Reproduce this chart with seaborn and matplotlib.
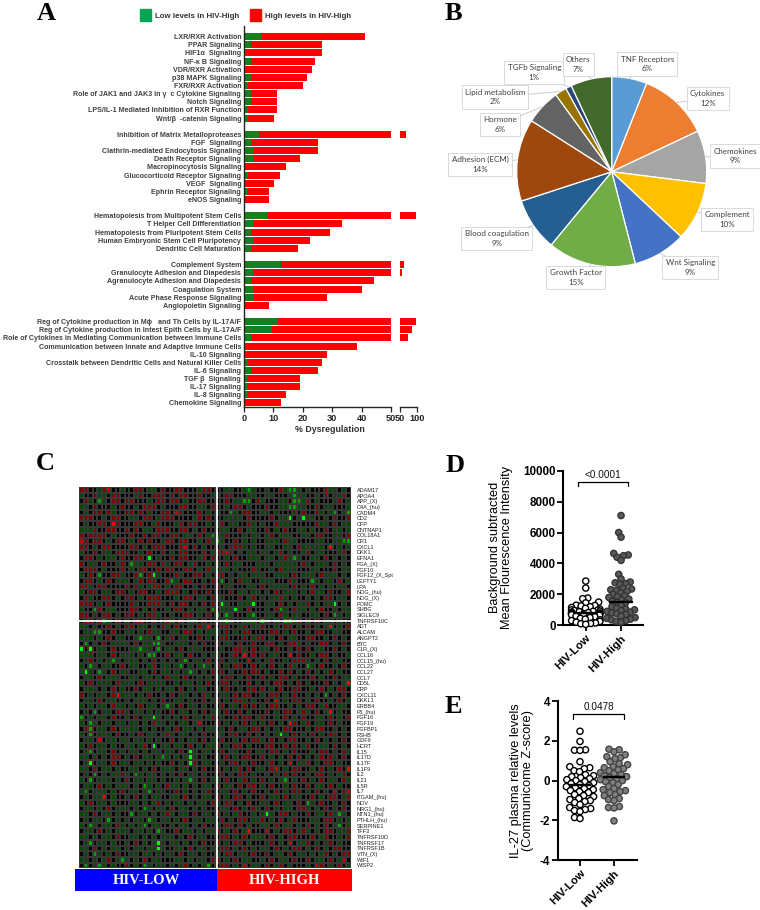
import matplotlib
matplotlib.use("Agg")
import numpy as np
import pandas as pd
import matplotlib.pyplot as plt
import seaborn as sns
from matplotlib.colors import LinearSegmentedColormap
from matplotlib.patches import Patch

# ---------------------------------------------------------------------------
# Panel A: % dysregulation per pathway, empty strings are the gaps between groups
# ---------------------------------------------------------------------------
a_terms = [
    "LXR/RXR Activation", "PPAR Signaling", "HIF1α  Signaling", "NF-κ B Signaling",
    "VDR/RXR Activation", "p38 MAPK Signaling", "FXR/RXR Activation",
    "Role of JAK1 and JAK3 in γ  c Cytokine Signaling", "Notch Signaling",
    "LPS/IL-1 Mediated Inhibition of RXR Function", "Wnt/β  -catenin Signaling", "",
    "Inhibition of Matrix Metalloproteases", "FGF  Signaling",
    "Clathrin-mediated Endocytosis Signaling", "Death Receptor Signaling",
    "Macropinocytosis Signaling", "Glucocorticoid Receptor Signaling", "VEGF  Signaling",
    "Ephrin Receptor Signaling", "eNOS Signaling", "",
    "Hematopoiesis from Multipotent Stem Cells", "T Helper Cell Differentiation",
    "Hematopoiesis from Pluripotent Stem Cells", "Human Embryonic Stem Cell Pluripotency",
    "Dendritic Cell Maturation", "",
    "Complement System", "Granulocyte Adhesion and Diapedesis",
    "Agranulocyte Adhesion and Diapedesis", "Coagulation System",
    "Acute Phase Response Signaling", "Angiopoietin Signaling", "",
    "Reg of Cytokine production in Mϕ   and Th Cells by IL-17A/F",
    "Reg of Cytokine production in Intest Epith Cells by IL-17A/F",
    "Role of Cytokines in Mediating Communication between Immune Cells",
    "Communication between Innate and Adaptive Immune Cells", "IL-10 Signaling",
    "Crosstalk between Dendritic Cells and Natural Killer Cells", "IL-6 Signaling",
    "TGF β  Signaling", "IL-17 Signaling", "IL-8 Signaling", "Chemokine Signaling",
]
a_total = [
    41.3, 26.4, 26.4, 24.2, 23.2, 21.3, 20.2, 11.3, 11.3, 11.3, 10.2, 0,
    68, 25.3, 25.3, 19.2, 14.2, 12.4, 10.2, 8.4, 8.4, 0,
    98, 33.3, 29.3, 22.3, 18.5, 0,
    62, 55, 44.3, 40.2, 28.2, 8.4, 0,
    96, 85, 74, 38.3, 28.2, 26.4, 25.3, 19.2, 19.2, 14.2, 12.5,
]
a_low = [
    6.2, 2.3, 0, 2.3, 0, 2.3, 1.2, 2.3, 2.3, 1.2, 1.2, 0,
    5.1, 2.3, 3.3, 3.3, 0, 1.2, 0, 1.2, 0, 0,
    8.3, 3.3, 2.3, 3.3, 2.3, 0,
    12.5, 3.3, 2.3, 3.3, 3.3, 0, 0,
    11.5, 9.4, 2.3, 0, 0, 1.2, 2.3, 1.2, 1.2, 1.2, 0,
]

# ---------------------------------------------------------------------------
# Panel B: share of the categories
# ---------------------------------------------------------------------------
b_labels = [
    "TNF Receptors", "Cytokines", "Chemokines", "Complement", "Wnt Signaling",
    "Growth Factor", "Blood coagulation", "Adhesion (ECM)", "Hormone",
    "Lipid metabolism", "TGFb Signaling", "Others",
]
b_values = [6, 12, 9, 10, 9, 15, 9, 14, 6, 2, 1, 7]
b_colors = [
    "#5B9BD5", "#ED7D31", "#A5A5A5", "#FFC000", "#4472C4", "#70AD47",
    "#255E91", "#9E480E", "#636363", "#997300", "#264478", "#43682B",
]

# ---------------------------------------------------------------------------
# Panel C: heatmap, one string per gene
# . black, r R X dark to bright red, g G L dark to bright green
# ---------------------------------------------------------------------------
c_genes = [
    "ADAM17", "APOA4", "APP_(X)", "C4A_(hu)", "CADM4", "CD2", "CFP", "CNTNAP1",
    "COL18A1", "CR1", "CXCL1", "DKK1", "EFNA1", "FGA_(X)", "FGF10", "FGF12_(X_Spt",
    "LEFTY1", "LPA", "NOG_(hu)", "NOG_(X)", "POMC", "SHBG", "SIGLEC9", "TNFRSF10C",
    "ADT", "ALCAM", "ANGPT2", "BTC", "C1R_(X)", "CCL16", "CCL15_(hu)", "CCL22",
    "CCL27", "CCL7", "CD5L", "CRP", "CXCL11", "DKKL1", "ERBB4", "F5_(hu)", "FGF16",
    "FGF19", "FGFBP1", "FSHB", "GDF9", "HCRT", "IL15", "IL17D", "IL17F", "IL1F9",
    "IL2", "IL21", "IL5R", "IL7", "ITGAM_(hu)", "NOV", "NRG1_(hu)", "NTN1_(hu)",
    "PTHLH_(hu)", "SERPINE1", "TFF3", "TNFRSF10D", "TNFRSF17", "TNFRSF1B", "VTN_(X)",
    "WIF1", "WISP2",
]
c_rows = [
    "rr..grR..g ..rr.gg.r. .rr...grr. ..gg..gGg. .g..rgGGg. g...rgg.g.",
    "g..rgg.rr. ..gr..rrr. r.rr..r..g g.rr...gg. .gg...gGgg ..g.r.ggr.",
    ".rg.Gg.rr. rr...g.rr. rr.g..rr.. ..r.ggGG.r g...gg.GGg r.g...gr.g",
    "gg.r...g.r ..g.rrr.g. ..rr..gg.r ..g.rr.g.. .r..ggGGgg ..r.gg...g",
    ".g.rr.rg.. rr.r.g..rr .Rr...r.g. g..Gg.rr.. gg.g...g.r ..rg.gG.gG",
    "rrr..g.rr. .gg.rr.grr r....gr.r. ..gggg.r.. ..r.ggL.gL gg..g.r..r",
    ".g..rr.Xr. ..rr..gr.. .gr.rr..g. gr.gg..rg. g..rggg... ..rgg.r.gg",
    "gggr..rr.. r.r.gg.rrr ..rr.g.r.. .gg..r.gg. .r.g.r..gg .g..r.gg.g",
    "r.rrrr.g.. .r..r.rr.. rr.gg.r.gG ggr...g.gg .gr.ggg..g g.rr..gg.r",
    "Rr.rr.g.rr .g.r.r..gr r.rr..g.rg Gg..r.g.g. .ggg.rgg.. ..gg..ggGG",
    "rr.g.rr... .rr.g.rrr. ..rR.r.g.. .g.rrrg.g. .gg..gg.rg gggg.X.g.g",
    "g..r.gg.rr r..g.r..r. g.rr...r.g rrRr.g.gg. gg.gr.g..g r.gg...gr.",
    ".rr.g.gg.r ..rr.L.g.. r.rr..gr.r ..g.r..ggg .gg.grgGg. .gg.r.g.g.",
    "r.gg.r..gr .Ggg.rr.rg .rr.gr..g. g.r.gg...g gg.ggggg.r g.ggg.r.g.",
    ".rrr.g...r .g.rr..r.r r..rr.g.rg .gg.g...rg ..g.rggg.. .gg...r.gg",
    "g.r.G..rrg ..rG.rLg.. .rg..rr.g. rr.g.gg.gg g..ggg.r.g gg.rggg.g.",
    ".rr.g.r.gg g.gr.rr..r Gg.rr..g.r .G.g.rgg.. ggg...rg.. .Gg.gg.r.g",
    "rrg.rr.... r.rg.grr.g .rr..g.r.. r.gg...gg. r.gggg.r.g .r.g.g.gg.",
    "g.rr.gg.rr .g.rr..g.r rr.g.r..r. ...r.gg.gg .g.r.ggg.g .rgg.r..gr",
    ".rg..rr.g. rr.g.rrr.. .g.rr.gg.r gg...r.gr. g.ggrg.g.. g.g.rr.gg.",
    "rrr.g.r... .rg..rrrg. r.rr.g.r.r .Lg..gggL. .gg.r.g.gg r.g.ggL.g.",
    "g..Gr.gg.. .rr.g.r..g .rr.g.gg.G .gggLg.r.. .g.rGg.rgg .g.r..g.gg",
    "rr.g.rr.g. rr.g.rrg.. g..rr.g.r. G.Gg...gG. .gg.rg.gg. .gg.r.Gg.g",
    ".rr.rGg.r. g.rr..r..r g.r.gg.r.. .gGg..ggg. Gg.g.GGgr. g.r.gg.g..",
    "gg.g..r.g. rr.gg.g.rg .r..g.rgX. .rr..gr.gg r..g.rr.g. r.g.gX.g.r",
    ".ggGG..r.. gg.g.rgg.. gg.rr.g.gg g.r.g.rr.. ..rr.g.r.. g.rr..gg..",
    "ggg.g.r.gg ..gGgg.G.g r.gg..r.g. .rr...r.gr r.g.r.gg.. rr..g.r.g.",
    ".G.g.r.ggg g.r.ggGGg. .ggg.g.r.. r.gg.r..r. .rr.g.rrg. g..rr.g.r.",
    "L.L.gg.r.. .ggGgg.G.g g.r.ggg... .g..rrg.r. gg.r..g.r. r.gg..r.g.",
    "ggg.gg.r.g gg.g.GG..r .gg.r..g.g g..gr.X.r. r.gg..X.r. .g.rr.g..g",
    ".gr.g.gGg. ggg.g.r.g. g.gG.gg.r. .r.gg..R.g .gr..g.rrr g.g.r.gg..",
    "g.Gg.gg..r .gg..gr.gg .gG.g.gGg. r.g.rr..r. g.r.g.rg.. Gg.r..g.r.",
    "gLg.Gg.r.g g..gg.r.gg .g.gGg.g.r .r.g..r.rr .g..r.r.g. r.g.gr.g..",
    ".gg.r.ggg. .gg.gg.g.r gg.r..g.g. g.rr.g.r.. r.g.rr.g.. .r.g..r.gg",
    "g.r.ggg.rg gg.r.gggg. .g.gg.g.r. .rr.g..r.g .g.rr.g.r. g...r.g.gX",
    ".ggg.g.r.g ..r.gg.g.g g.r.g.gg.. g.r..g.rr. r.g.r..rr. .g.r.g.rr.",
    "r.g.gg.rXg gg.g.r..g. r.gg.g.rg. .gg.r.rr.. g.rr.g.r.. g.g.G.g.r.",
    ".gg.r.gg.. g.ggg.g.r. .gg.g..r.g r.g.rrg.g. .r.R.g.rr. g.r..g.r.g",
    "g.g.gg.rgg .g.r.gg.gG g.r.gg.g.. .r.gg.r.r. g.rr..g.g. rr.gr..gg.",
    ".g.G.gg.rr g.gg.g.g.. r.gg.g.r.g g.r..r.g.. .r.g.rr.gr g.r.gX.g..",
    "G.g.gg.r.. g.r.ggLg.g .g.r.gg.gr .g..r.rr.g r..g.r.g.r ..gg.r.g.r",
    "g.Gg.gg.gg .gg.g.rgg. g.gg.gR... r.g.g.r.g. g.r.g.Xr.g r.gg.r.g..",
    ".rG.gg.r.g ggg.g.g..g .r.gg.g.gg .g.r.gg.rr .g.g.rr... g.rr..g.g.",
    "g.G.ggg.r. .g.r.gg.gr g.gg.g.r.. gg.rr..r.g .g.gLg.r.g .r.g.rr.g.",
    ".gg.R.gg.g g.gg.g.g.. r.g.gg.r.g .r..g.r.rr g.r.g.rr.. g.r.g.g.r.",
    "g.r.gg.g.. gg.gr.L.gg .gg.r.g.gg r.g.rr.g.. .rr..r.r.g r..gg.r.g.",
    ".gG.gg.r.g .gg.g.gg.g g.r.Lg.gg. .r.gg..r.g g.rr.g.r.. .g.rr.g.rg",
    "gg.g.g.rr. g.r.gg.gGg .g.gLg.g.. g.r.g.rr.. r.g.g.r.r. g.gr.rg.r.",
    ".gL.gg.r.g g.gg.g.g.. r.g.Lr.gg. .g.rr.g.r. .gr.g.R.gg r.g.rr.g..",
    "gg.r.gg.g. .gg.g.r.gg g.gg.g.r.. r.g.gr.r.g g.rR.g.rr. .g.r.g.r.X",
    ".g.G.g.ggr g.Gg.gg.g. g.r.gg.g.. .r.g.rr.g. .g.g.r.r.. g.rr.g.gr.",
    "g.G.ggg.g. r.gg.gg.g. .g.gGg.r.g g.r..gr.g. r.g.gG.g.r .g.r.gg.rg",
    ".gg.r.g.gg g.g.Gg.g.r gg.g.g.gg. r.gg.r.rr. g.r..g.r.. r.gg.r.g..",
    "gG.ggg.g.r .gg.gG.gg. .r.g.g.gr. .gg.r.g.r. .g.r.g.rr. g.r.g.R.rR",
    ".g.ggX.g.. g.r.g.gg.. gg.r.g.gg. r.g.rr.g.. r.gg.r.gg. .r.g.rr.gr",
    "g.r.gg.g.. .gg.g.gr.g .gg.g.gg.r g.rr.g.r.. gg.r.gg.r. Gg.r..g.r.",
    ".gg.g.r.gg g.g.Gg.gg. r.gg.g.g.. .gg.r.g.rg .r.g.gg.rr g.g.r.g.r.",
    "gg.r.gg.g. .G.gg.g.gr g.gg.r.gg. r.g.gr..g. gLg.rr.g.. r.gg.rgGg.",
    ".g.gg.G.g. g.gg.Gg.gg .g.r.gg.gg .r.g.rr.gg r.g.r.gr.. .gg.rr.g.g",
    "g.Gg.gg.rg .g.gG.gg.. g.gg.g.r.. g.rr.r.g.. gg.r.gg.g. r.g.r.gG.g",
    ".gg.r.g.gg g.gg.g.Gg. .r.gg.g.gg r.g.r.gX.. .R.g.rr.gr g.g.rr.ggr",
    "gg.g.gg.r. .gg.g.g.gg g.g.r.gg.. .rr.g.r.gg g.r.g.rr.. .r.gr..g.r",
    ".gG.gg.g.. g.r.g.gLg. gg.g.g.r.. r.g.rr.g.. .gr.g.R.gg r.g.gr.g..",
    "gg.r.g.gg. g.gg.ggLg. .gg.r.gg.g .rr.g.r.g. gg.r.g.rr. g.r.g.rr..",
    ".g.Gg.g.r. .gg.gg.g.g g.r.gg.g.. g.rr.gg.r. .r.gg.r.gg .g.gr.g.rr",
    "gg.g.gr.gG g.g.r.gg.. .gg.g.gg.r r.g.r.gg.. g.r.gg.r.. r.gg.r.gR.",
    ".G.gGg.g.. r.g.Gg.gg. g.gr.g.gG. .rr.g.R.gg .r.gr.g... g.Rr.g.r.g",
]
c_levels = {".": 0, "r": 1.5, "R": 2.3, "X": 3, "g": -0.85, "G": -1.9, "L": -3}
c_band_labels = ["HIV-LOW", "HIV-HIGH"]
c_band_widths = [142, 135]

# ---------------------------------------------------------------------------
# Panels D and E: single values per patient group
# ---------------------------------------------------------------------------
groups = ["HIV-Low", "HIV-High"]
d_low = [
    2860, 2410, 1760, 1720, 1500, 1450, 1300, 1280, 1250, 1200, 1150, 1100, 1050,
    1000, 980, 950, 920, 900, 880, 850, 820, 800, 780, 760, 740, 720, 700, 680, 650,
    600, 550, 500, 450, 400, 350, 300, 250, 200, 150, 120, 100, 60,
]
d_high = [
    7100, 6000, 5700, 4650, 4550, 4500, 4400, 4200, 3300, 3000, 2800, 2750, 2700,
    2650, 2400, 2350, 2300, 2250, 2200, 2100, 2000, 1900, 1850, 1800, 1700, 1650,
    1550, 1500, 1450, 1300, 1200, 1100, 1050, 1000, 950, 900, 850, 800, 750, 700,
    600, 500, 450, 400, 350, 300, 250, 200,
]
d_means = [775, 1480]
e_low = [
    2.48, 1.97, 1.55, 1.53, 1.52, 0.95, 0.7, 0.65, 0.6, 0.5, 0.45, 0.3, 0.25, 0.2,
    0.15, 0.1, 0.05, 0, -0.05, -0.1, -0.15, -0.2, -0.25, -0.3, -0.35, -0.4, -0.45,
    -0.5, -0.55, -0.6, -0.7, -0.75, -0.8, -0.9, -0.95, -1.0, -1.05, -1.1, -1.2,
    -1.35, -1.4, -1.45, -1.5, -1.55, -1.85, -1.9,
]
e_high = [
    1.58, 1.55, 1.45, 1.3, 1.2, 1.15, 1.1, 0.95, 0.85, 0.8, 0.7, 0.65, 0.6, 0.55, 0.5,
    0.4, 0.35, 0.3, 0.25, 0.2, 0.15, 0.1, 0.05, 0, -0.05, -0.1, -0.2, -0.3, -0.4,
    -0.45, -0.5, -0.55, -0.6, -0.7, -0.75, -0.9, -0.95, -1.0, -1.3, -1.35, -1.37, -2.02,
]
e_means = [-0.2, 0.18]

FIG_W, FIG_H = 760, 910
SANS = ["Liberation Sans", "DejaVu Sans"]
SERIF = ["Liberation Serif", "DejaVu Serif"]

sns.set_theme(style="ticks")
plt.rcParams["font.family"] = SANS
plt.rcParams["axes.unicode_minus"] = False

fig = plt.figure(figsize=(FIG_W / 100, FIG_H / 100), dpi=100, facecolor="white")


def px_axes(left, top, right, bottom):
    """Axes from pixel edges measured from the top left of the picture."""
    return fig.add_axes([left / FIG_W, 1 - bottom / FIG_H,
                         (right - left) / FIG_W, (bottom - top) / FIG_H])


def panel_letter(x, y, s):
    fig.text(x / FIG_W, 1 - y / FIG_H, s, family=SERIF, weight="bold", fontsize=19,
             ha="left", va="baseline", color="black")


for letter, lx, ly in [("A", 37, 20), ("B", 445, 20), ("C", 36, 470), ("D", 446, 472), ("E", 445, 713)]:
    panel_letter(lx, ly, letter)

# ---------------------------------------------------------------------------
# Panel A
# ---------------------------------------------------------------------------
df_a = pd.DataFrame({"row": np.arange(len(a_terms)), "total": a_total, "low": a_low})
ax_a = px_axes(244, 25.7, 391, 407.3)
ax_a2 = px_axes(400, 25.7, 417, 407.3)
for ax in (ax_a, ax_a2):
    sns.barplot(data=df_a, x="total", y="row", orient="h", native_scale=True,
                color="#ff0000", saturation=1, width=0.86, linewidth=0, ax=ax)
    sns.barplot(data=df_a, x="low", y="row", orient="h", native_scale=True,
                color="#16801f", saturation=1, width=0.86, linewidth=0, ax=ax)
    ax.set_ylim(45.53, -1.35)
    ax.set_xlabel("")
    ax.set_ylabel("")
    sns.despine(ax=ax)
    ax.tick_params(axis="x", length=3.5, width=0.9, pad=1.5, labelsize=6.6, colors="#222222")
    ax.spines["bottom"].set_linewidth(1.0)
ax_a.set_xlim(0, 50)
ax_a.set_xticks([0, 10, 20, 30, 40, 50])
ax_a.set_yticks(df_a["row"])
ax_a.set_yticklabels(a_terms, fontsize=5.1, fontweight="bold", color="#404040")
ax_a.tick_params(axis="y", length=0, pad=2)
ax_a.spines["left"].set_linewidth(1.0)
ax_a.spines["left"].set_color("#222222")
ax_a2.set_xlim(50, 100)
ax_a2.set_xticks([50, 100])
ax_a2.set_yticks([])
ax_a2.spines["left"].set_visible(False)
for ax in (ax_a, ax_a2):
    for lab in ax.get_xticklabels():
        lab.set_fontweight("bold")
fig.text(330 / FIG_W, 1 - 429.5 / FIG_H, "% Dysregulation", fontsize=6.4, fontweight="bold",
         ha="center", va="center", color="#333333")
fig.legend(handles=[Patch(color="#00a651"), Patch(color="#ff0000")],
           labels=["Low levels in HIV-High", "High levels in HIV-High"],
           loc="center", bbox_to_anchor=(245.5 / FIG_W, 1 - 15 / FIG_H), ncol=2, frameon=False,
           prop={"size": 5.7, "weight": "bold"}, handlelength=1.4, handleheight=1.9,
           handletextpad=0.5, columnspacing=1.4, labelcolor="#333333")

# ---------------------------------------------------------------------------
# Panel B
# ---------------------------------------------------------------------------
# centres of the label boxes in picture pixels
b_label_px = [
    (647.4, 64), (707.7, 98.7), (735, 156), (727.3, 219.7), (690.3, 267.7), (575.7, 277.7),
    (496.7, 238.7), (480, 164.7), (499.7, 124.3), (495, 97), (534.3, 72.3), (578.3, 64.7),
]
ax_b = px_axes(516.7, 76.7, 706.7, 266.7)
wedges, _ = ax_b.pie(b_values, colors=sns.color_palette(b_colors), startangle=90,
                     counterclock=False, radius=1,
                     wedgeprops={"edgecolor": "white", "linewidth": 0.9})
ax_b.set_xlim(-1, 1)
ax_b.set_ylim(-1, 1)
for wedge, name, val, (bx, by) in zip(wedges, b_labels, b_values, b_label_px):
    mid = np.deg2rad((wedge.theta1 + wedge.theta2) / 2)
    ax_b.annotate(f"{name}\n{val}%", xy=(np.cos(mid), np.sin(mid)),
                  xytext=(bx / FIG_W, 1 - by / FIG_H), textcoords="figure fraction",
                  ha="center", va="center", fontsize=5.8, family=["Lato", "DejaVu Sans"],
                  color="#404040", linespacing=1.45, annotation_clip=False,
                  bbox={"boxstyle": "square,pad=0.4", "fc": "white", "ec": "#d4d4d4", "lw": 0.6},
                  arrowprops={"arrowstyle": "-", "color": "#c4c4c4", "lw": 0.6,
                              "shrinkA": 0, "shrinkB": 0})

# ---------------------------------------------------------------------------
# Panel C
# ---------------------------------------------------------------------------
c_matrix = pd.DataFrame(
    [[c_levels[ch] for ch in row.replace(" ", "").ljust(60, ".")[:60]] for row in c_rows],
    index=c_genes,
)
green_red = LinearSegmentedColormap.from_list("green_red", ["#00ff00", "#000000", "#ff0000"])
ax_c = px_axes(79.3, 487, 351, 868.3)
sns.heatmap(c_matrix, cmap=green_red, vmin=-3, vmax=3, cbar=False, xticklabels=False,
            yticklabels=True, linewidths=0.1, linecolor="#383838", ax=ax_c)
ax_c.axvline(30.3, color="white", lw=1.3)
ax_c.axhline(23.6, color="white", lw=1.3)
ax_c.yaxis.tick_right()
ax_c.tick_params(axis="y", length=0, pad=4, labelsize=4.0, labelrotation=0, colors="#222222")
ax_c.set_ylabel("")

ax_band = px_axes(75, 869, 352, 891)
band_left = np.concatenate([[0], np.cumsum(c_band_widths)[:-1]])
ax_band.barh([0, 0], c_band_widths, left=band_left, height=1,
             color=["#0000ff", "#ff0000"], linewidth=0)
for label, left, width in zip(c_band_labels, band_left, c_band_widths):
    ax_band.text(left + width / 2, 0, label, color="white", ha="center", va="center",
                 family=SERIF, weight="bold", fontsize=10.5)
ax_band.set_xlim(0, sum(c_band_widths))
ax_band.set_ylim(-0.5, 0.5)
ax_band.axis("off")


# ---------------------------------------------------------------------------
# Panels D and E
# ---------------------------------------------------------------------------
def dot_panel(ax, low, high, means, fills, edges, size, layout_size, mean_halfwidth, y_lim):
    df = pd.DataFrame({
        "group": [groups[0]] * len(low) + [groups[1]] * len(high),
        "value": low + high,
    })
    ax.set_ylim(*y_lim)
    sns.swarmplot(data=df, x="group", y="value", hue="group", order=groups, hue_order=groups,
                  palette=fills, size=layout_size, linewidth=0.8, warn_thresh=1,
                  legend=False, ax=ax)
    ax.set_ylim(*y_lim)
    # layout done with small dots, they are then drawn bigger and overlap like the original
    fig.canvas.draw()
    for coll, edge in zip(ax.collections, edges):
        del coll.draw
        coll.set_sizes([size])
        coll.set_edgecolor(edge)
        coll.set_linewidth(1.0)
        coll.set_clip_on(False)
    ax.hlines(means, np.arange(2) - mean_halfwidth, np.arange(2) + mean_halfwidth,
              color="black", lw=1.7, zorder=6)
    sns.despine(ax=ax)
    for spine in ("left", "bottom"):
        ax.spines[spine].set_linewidth(1.5)
        ax.spines[spine].set_color("black")
    ax.tick_params(axis="both", length=4, width=1.3, labelsize=8.4, pad=1.5, colors="black")
    ax.set_xlabel("")
    for lab in ax.get_xticklabels():
        lab.set(rotation=45, ha="right", rotation_mode="anchor", fontweight="bold", fontsize=8.2)


def bracket(ax, x0, x1, y_top, y_tip, label, y_label):
    ax.plot([x0, x0, x1, x1], [y_tip, y_top, y_top, y_tip], color="black", lw=0.9, clip_on=False)
    ax.text((x0 + x1) / 2, y_label, label, ha="center", va="center", fontsize=7.2,
            color="#111111", clip_on=False)


ax_d = px_axes(563.3, 470.7, 643.3, 625.3)
ax_d.set_xlim(-0.635, 1.63)
dot_panel(ax_d, d_low, d_high, d_means, ["white", "#595959"], ["black", "#333333"],
          20, 3.0, 0.33, (0, 10000))
ax_d.set_xlim(-0.635, 1.63)
ax_d.set_yticks([0, 2000, 4000, 6000, 8000, 10000])
for lab in ax_d.get_yticklabels():
    lab.set_fontweight("bold")
ax_d.set_ylabel("Background subtracted\nMean Flourescence Intensity", fontsize=9.2, va="center",
                linespacing=1.05, color="black")
ax_d.yaxis.set_label_coords(-0.78, 0.506)
bracket(ax_d, -0.21, 1.19, 9285, 8990, "<0.0001", 9690)

ax_e = px_axes(557.7, 701, 636.7, 860.3)
ax_e.set_xlim(-0.656, 1.668)
dot_panel(ax_e, e_low, e_high, e_means, ["white", "#808080"], ["black", "#444444"],
          20, 3.6, 0.32, (-4, 4))
ax_e.set_xlim(-0.656, 1.668)
ax_e.set_yticks([-4, -2, 0, 2, 4])
for lab in ax_e.get_yticklabels():
    lab.set_fontweight("bold")
ax_e.set_ylabel("IL-27 plasma relative levels\n(Communicome Z-score)", fontsize=9.2, va="center",
                linespacing=1.05, color="black")
ax_e.yaxis.set_label_coords(-0.452, 0.498)
bracket(ax_e, -0.2, 1.3, 3.33, 3.1, "0.0478", 3.68)

fig.savefig("out.png", dpi=100, facecolor="white")
